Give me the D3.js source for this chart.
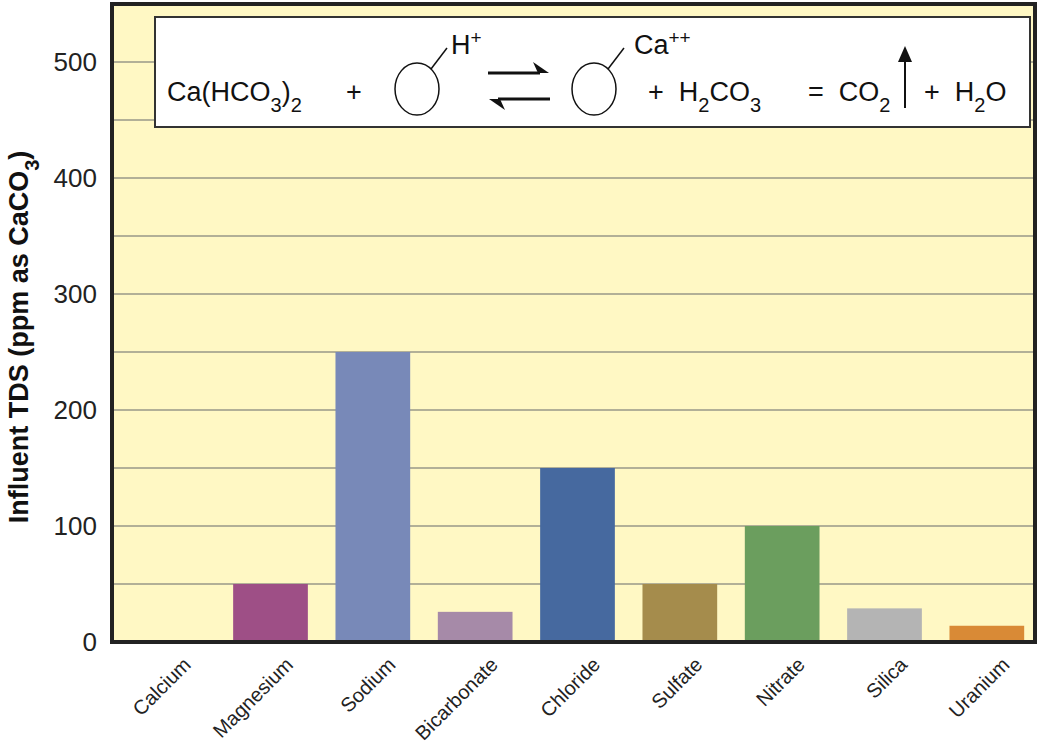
<!DOCTYPE html>
<html><head><meta charset="utf-8">
<script src="https://cdn.jsdelivr.net/npm/d3@7"></script>
<style>body{margin:0;background:#fff}text{font-family:"Liberation Sans",Arial,sans-serif;white-space:pre}</style>
</head><body><svg id="c" width="1054" height="754"></svg>
<script>
var categories = ["Calcium","Magnesium","Sodium","Bicarbonate","Chloride","Sulfate","Nitrate","Silica","Uranium"];
var values = [0,50,250,26,150,50,100,29,14];
var colors = ["#c05050","#9e4f86","#7889b8","#a68aa8","#46699f","#a58c4c","#6b9e5e","#b4b4b4","#d98a36"];
var yTicks = [0,100,200,300,400,500];

var svg = d3.select("#c");
var pLeft = 112, pRight = 1035, pTop = 4, pBottom = 642;
var x = d3.scaleBand().domain(categories).range([117, 1038]).paddingInner(0.27).paddingOuter(0.135);
var y = d3.scaleLinear().domain([0, 550]).range([pBottom, pTop]);

svg.append("rect").attr("x", pLeft).attr("y", pTop).attr("width", pRight - pLeft).attr("height", pBottom - pTop).attr("fill", "#fff8c4");

// gridlines every 50
svg.append("g").selectAll("line").data(d3.range(50, 550, 50)).enter().append("line")
  .attr("x1", pLeft).attr("x2", pRight).attr("y1", function(d){return y(d);}).attr("y2", function(d){return y(d);})
  .attr("stroke", "#999988").attr("stroke-width", 1.5);

svg.append("g").selectAll("rect").data(values).enter().append("rect")
  .attr("x", function(d, i){return x(categories[i]);})
  .attr("y", function(d){return y(d);})
  .attr("width", x.bandwidth())
  .attr("height", function(d){return pBottom - y(d);})
  .attr("fill", function(d, i){return colors[i];});

// frame
svg.append("rect").attr("x", pLeft).attr("y", pTop).attr("width", pRight - pLeft).attr("height", pBottom - pTop)
  .attr("fill", "none").attr("stroke", "#222").attr("stroke-width", 4);

// y ticks
var yAxis = d3.axisLeft(y).tickValues(yTicks).tickSize(0).tickPadding(15);
var ya = svg.append("g").attr("transform", "translate(" + pLeft + ",0)").call(yAxis);
ya.attr("font-size", null).attr("font-family", null);
ya.select(".domain").remove();
ya.selectAll("text").style("font-size", "26px").attr("fill", "#222");

// x labels
var xAxis = d3.axisBottom(x).tickSize(0).tickPadding(0);
var xa = svg.append("g").attr("transform", "translate(0," + pBottom + ")").call(xAxis);
xa.attr("font-size", null).attr("font-family", null);
xa.select(".domain").remove();
xa.selectAll("text").style("font-size", "20px").attr("fill", "#222")
  .attr("text-anchor", "end").attr("transform", "translate(14,14) rotate(-45)").attr("dy", "0.7em");

// y title
svg.append("text").attr("transform", "translate(28," + ((pTop + pBottom) / 2 + 14) + ") rotate(-90)")
  .attr("text-anchor", "middle").style("font-size", "27px").attr("font-weight", "bold").attr("fill", "#111")
  .html('Influent TDS (ppm as CaCO<tspan baseline-shift="sub" font-size="20">3</tspan>)');

// equation box
var eq = svg.append("g");
eq.append("rect").attr("x", 155).attr("y", 17).attr("width", 875).attr("height", 110)
  .attr("fill", "#fff").attr("stroke", "#333").attr("stroke-width", 2);
function t(px, py, html) {
  eq.append("text").attr("x", px).attr("y", py).style("font-size", "27px").attr("fill", "#111").html(html);
}
var sub = function(s){return '<tspan baseline-shift="sub" font-size="20">' + s + '</tspan>';};
var sup = function(s){return '<tspan baseline-shift="super" font-size="19">' + s + '</tspan>';};
t(167, 101, 'Ca(HCO' + sub("3") + ')' + sub("2"));
t(346, 101, '+');
t(451, 54, 'H' + sup("+"));
t(634, 54, 'Ca' + sup("++"));
t(648, 101, '+  H' + sub("2") + 'CO' + sub("3"));
t(808, 101, '=  CO' + sub("2"));
t(924, 101, '+  H' + sub("2") + 'O');
[[417, 89], [594, 89]].forEach(function(c){
  eq.append("ellipse").attr("cx", c[0]).attr("cy", c[1]).attr("rx", 22).attr("ry", 26)
    .attr("fill", "none").attr("stroke", "#111").attr("stroke-width", 1.5);
  eq.append("line").attr("x1", c[0] + 14).attr("y1", c[1] - 20).attr("x2", c[0] + 30).attr("y2", c[1] - 41)
    .attr("stroke", "#111").attr("stroke-width", 1.5);
});
// equilibrium arrows
eq.append("line").attr("x1", 488).attr("x2", 540).attr("y1", 73).attr("y2", 73).attr("stroke", "#111").attr("stroke-width", 3);
eq.append("path").attr("d", "M549,73 L533,62 L538,73 Z").attr("fill", "#111");
eq.append("line").attr("x1", 498).attr("x2", 550).attr("y1", 99).attr("y2", 99).attr("stroke", "#111").attr("stroke-width", 3);
eq.append("path").attr("d", "M489,99 L505,110 L500,99 Z").attr("fill", "#111");
// up arrow
eq.append("line").attr("x1", 905).attr("x2", 905).attr("y1", 108).attr("y2", 56).attr("stroke", "#111").attr("stroke-width", 2);
eq.append("path").attr("d", "M905,46 L898,62 L912,62 Z").attr("fill", "#111");
</script></body></html>
